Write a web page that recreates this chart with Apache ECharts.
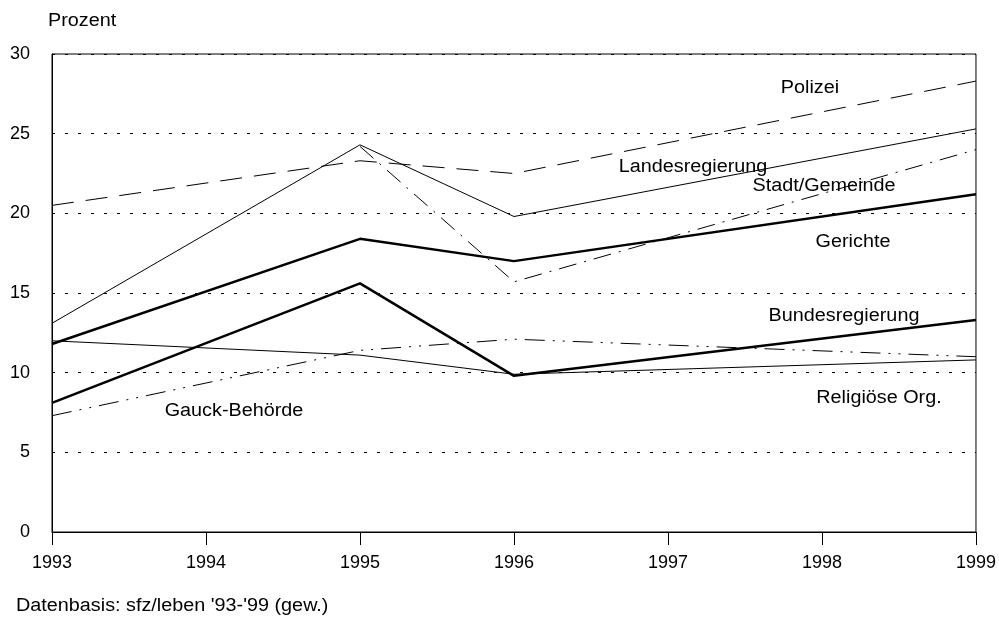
<!DOCTYPE html>
<html>
<head>
<meta charset="utf-8">
<script src="https://cdn.jsdelivr.net/npm/echarts@6/dist/echarts.min.js"></script>
<style>
  html, body { margin: 0; padding: 0; background: #fff; }
  #chart { width: 999px; height: 619px; }
</style>
</head>
<body>
<div id="chart"></div>
<script>
// Jahre der Erhebungen
const years = [1993, 1995, 1996, 1999];
const yearsNo93 = [1995, 1996, 1999];

// Werte in Prozent
const polizei = [20.5, 23.3, 22.5, 28.3];
const landesregierung = [13.1, 24.3, 19.8, 25.3];
const stadtGemeinde = [24.2, 15.7, 24.0];
const gerichte = [11.8, 18.4, 17.0, 21.2];
const bundesregierung = [8.1, 15.6, 9.8, 13.3];
const religioese = [12.0, 11.1, 9.9, 10.8];
const gauck = [7.3, 11.4, 12.1, 11.0];

const yTicks = [0, 5, 10, 15, 20, 25, 30];

const font = "'Liberation Sans', Arial, sans-serif";
const fs = 18;

const pair = (xs, vs) => xs.map((x, i) => [x, vs[i]]);

const line = (name, xs, vs, width, dash) => ({
  name: name,
  type: "line",
  data: pair(xs, vs),
  symbol: "none",
  silent: true,
  lineStyle: { color: "#000", width: width, type: dash || "solid" },
});

// Beschriftung, (x, y) = Mitte des Textes
const label = (text, x, y, align) => ({
  type: "text",
  x: x,
  y: y,
  scaleX: 1.1,
  style: {
    text: text,
    font: fs + "px " + font,
    fill: "#000",
    align: align || "center",
    verticalAlign: "middle",
  },
});

const chart = echarts.init(document.getElementById("chart"));
chart.setOption({
  animation: false,
  grid: {
    left: 52,
    right: 23,
    top: 54,
    bottom: 87,
    show: true,
    borderColor: "#000",
    borderWidth: 1,
    backgroundColor: "transparent",
  },
  xAxis: {
    type: "value",
    min: 1993,
    max: 1999,
    interval: 1,
    axisLine: { show: true, lineStyle: { color: "#000", width: 1 } },
    axisTick: { show: true, length: 13, lineStyle: { color: "#000" } },
    axisLabel: {
      color: "#000",
      fontSize: fs,
      fontFamily: font,
      margin: 22,
      formatter: (v) => String(v),
    },
    splitLine: { show: false },
  },
  yAxis: {
    type: "value",
    min: yTicks[0],
    max: yTicks[yTicks.length - 1],
    interval: 5,
    axisLine: { show: true, lineStyle: { color: "#000", width: 1 } },
    axisTick: { show: false },
    axisLabel: { color: "#000", fontSize: fs, fontFamily: font, margin: 22 },
    splitLine: { show: true, lineStyle: { color: "#000", width: 1, type: [3, 10] } },
  },
  series: [
    line("Polizei", years, polizei, 1, [22, 12]),
    line("Landesregierung", years, landesregierung, 1),
    line("Stadt/Gemeinde", yearsNo93, stadtGemeinde, 1, [18, 8, 2, 8]),
    line("Gerichte", years, gerichte, 2.5),
    line("Bundesregierung", years, bundesregierung, 2.5),
    line("Religiöse Org.", years, religioese, 1),
    line("Gauck-Behörde", years, gauck, 1, [20, 8, 2, 8, 2, 8]),
  ],
  graphic: [
    label("Prozent", 48, 21, "left"),
    label("Polizei", 810, 88),
    label("Landesregierung", 693, 167),
    label("Stadt/Gemeinde", 824, 186),
    label("Gerichte", 853, 242),
    label("Bundesregierung", 844, 316),
    label("Religiöse Org.", 879, 398),
    label("Gauck-Behörde", 234, 411),
    label("Datenbasis: sfz/leben '93-'99 (gew.)", 16, 606, "left"),
  ],
});
</script>
</body>
</html>
